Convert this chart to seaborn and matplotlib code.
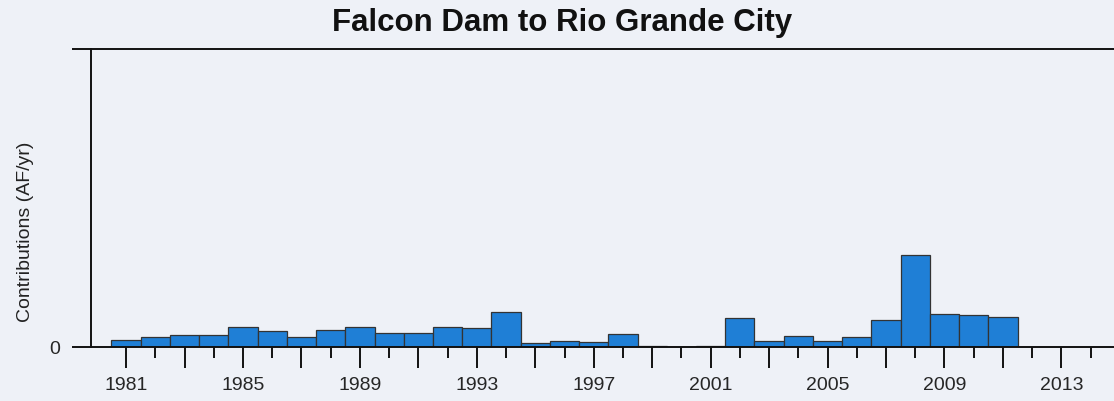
import matplotlib
matplotlib.use("Agg")
import matplotlib.pyplot as plt
import seaborn as sns
import pandas as pd

years = list(range(1981, 2012))
contributions = [7.5, 10.5, 12, 12, 20, 16.5, 10, 17, 20.5, 14, 14.5, 20.5, 19, 35,
                 4.5, 6.5, 5, 13.5, 1, 0.5, 1.5, 29.5, 6.5, 11, 6.5, 10, 27, 92,
                 33, 32, 30.5]
label_years = [1981, 1985, 1989, 1993, 1997, 2001, 2005, 2009, 2013]

df = pd.DataFrame({"year": years, "value": contributions})

bg = "#eef1f7"
sns.set_style("ticks")
plt.rcParams["font.family"] = ["Liberation Sans", "DejaVu Sans"]

fig = plt.figure(figsize=(11.14, 4.02), dpi=100, facecolor=bg)
ax = fig.add_axes([91 / 1114, 54 / 402, 1023 / 1114, 298 / 402])
ax.set_facecolor(bg)

sns.barplot(data=df, x="year", y="value", native_scale=True, width=1.0,
            color="#1f7fd6", edgecolor="#333333", linewidth=0.9,
            saturation=1, ax=ax)

ax.set_xlim(1979.8, 2014.8)
ax.set_ylim(0, 298)

# major ticks on odd years, labelled every four years
odd_years = list(range(1981, 2015, 2))
ax.set_xticks(odd_years)
ax.set_xticklabels([str(y) if y in label_years else "" for y in odd_years], fontsize=14)
ax.set_xticks(list(range(1982, 2015, 2)), minor=True)
ax.tick_params(axis="x", which="major", length=15, width=1.4, direction="out", pad=6, color="#111111")
ax.tick_params(axis="x", which="minor", length=8, width=1.4, direction="out", color="#111111")

ax.set_yticks([0, 298])
ax.set_yticklabels(["0", ""], fontsize=14)
ax.tick_params(axis="y", length=14, width=1.4, direction="out", pad=8, color="#111111")

for side in ["left", "bottom", "top"]:
    ax.spines[side].set_visible(True)
    ax.spines[side].set_linewidth(1.4)
    ax.spines[side].set_color("#111111")
ax.spines["right"].set_visible(False)

ax.set_xlabel("")
ax.set_ylabel("Contributions (AF/yr)", fontsize=14, color="#222222")
ax.yaxis.set_label_coords(-0.056, 0.39)

fig.text(562 / 1114, 1 - 23 / 402, "Falcon Dam to Rio Grande City",
         ha="center", va="center", fontsize=22.5, fontweight="bold", color="#111111")

fig.savefig("out.png", dpi=100, facecolor=bg)
